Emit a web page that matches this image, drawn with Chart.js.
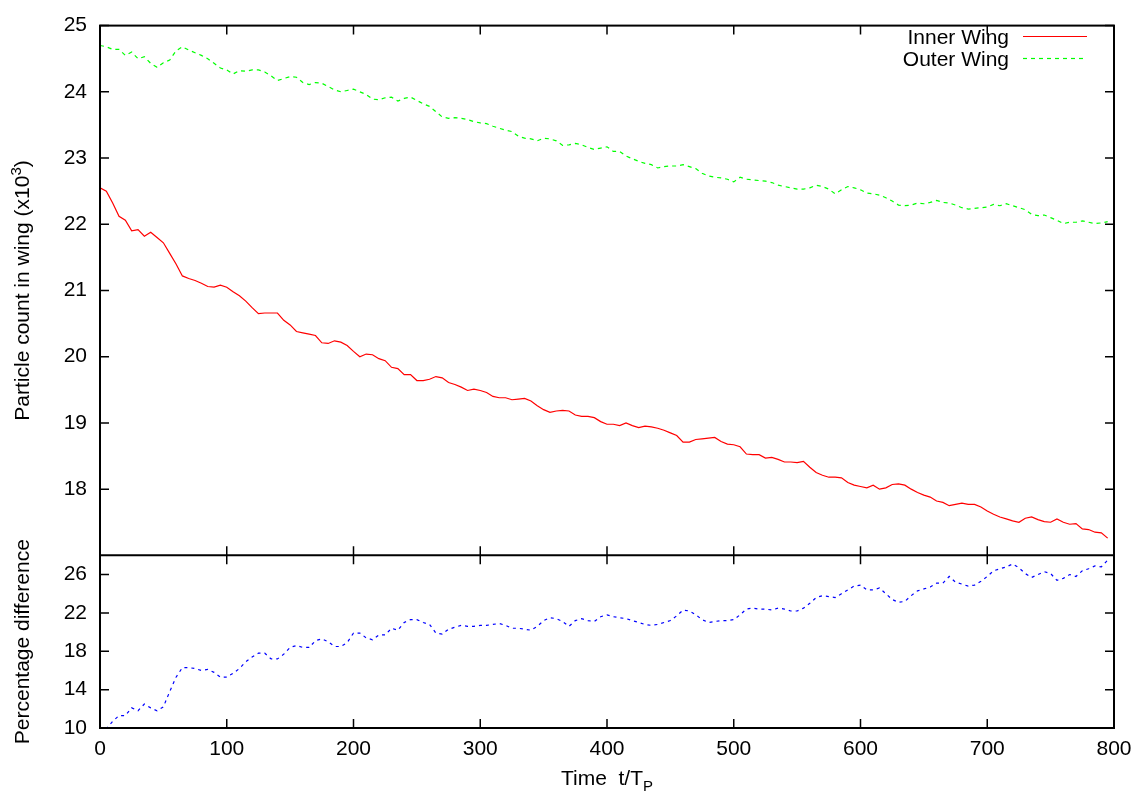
<!DOCTYPE html>
<html>
<head>
<meta charset="utf-8">
<title>Particle count in wing</title>
<script src="https://cdn.jsdelivr.net/npm/chart.js@4.4.0/dist/chart.umd.min.js"></script>
<style>
  html, body { margin: 0; padding: 0; background: #fff; }
  canvas { display: block; }
</style>
</head>
<body>
<canvas id="wingChart" width="1142" height="795"></canvas>
<script>
// time in units of T_P, one sample every 5
var times = [
  0, 5, 10, 15, 20, 25, 30, 35, 40, 45, 50, 55, 60, 65, 70, 75, 80, 85, 90, 95,
  100, 105, 110, 115, 120, 125, 130, 135, 140, 145, 150, 155, 160, 165, 170, 175, 180, 185, 190, 195,
  200, 205, 210, 215, 220, 225, 230, 235, 240, 245, 250, 255, 260, 265, 270, 275, 280, 285, 290, 295,
  300, 305, 310, 315, 320, 325, 330, 335, 340, 345, 350, 355, 360, 365, 370, 375, 380, 385, 390, 395,
  400, 405, 410, 415, 420, 425, 430, 435, 440, 445, 450, 455, 460, 465, 470, 475, 480, 485, 490, 495,
  500, 505, 510, 515, 520, 525, 530, 535, 540, 545, 550, 555, 560, 565, 570, 575, 580, 585, 590, 595,
  600, 605, 610, 615, 620, 625, 630, 635, 640, 645, 650, 655, 660, 665, 670, 675, 680, 685, 690, 695,
  700, 705, 710, 715, 720, 725, 730, 735, 740, 745, 750, 755, 760, 765, 770, 775, 780, 785, 790, 795
];

// particle counts (x10^3)
var innerWing = [
  22.55, 22.50, 22.32, 22.12, 22.06, 21.90, 21.92, 21.82, 21.88, 21.80, 21.72, 21.56, 21.40, 21.22, 21.18, 21.15, 21.11, 21.06, 21.05, 21.08,
  21.05, 20.98, 20.92, 20.84, 20.74, 20.65, 20.66, 20.66, 20.66, 20.55, 20.48, 20.38, 20.36, 20.34, 20.32, 20.21, 20.20, 20.24, 20.22, 20.17,
  20.08, 20.00, 20.04, 20.03, 19.97, 19.94, 19.84, 19.82, 19.73, 19.73, 19.64, 19.64, 19.66, 19.70, 19.68, 19.61, 19.58, 19.54, 19.49, 19.51,
  19.49, 19.46, 19.40, 19.38, 19.38, 19.35, 19.36, 19.37, 19.33, 19.26, 19.20, 19.16, 19.18, 19.19, 19.18, 19.12, 19.10, 19.10, 19.08, 19.02,
  18.98, 18.98, 18.96, 19.00, 18.96, 18.93, 18.95, 18.94, 18.92, 18.89, 18.85, 18.81, 18.71, 18.71, 18.75, 18.76, 18.77, 18.78, 18.72, 18.68,
  18.67, 18.64, 18.53, 18.52, 18.52, 18.47, 18.48, 18.45, 18.41, 18.41, 18.40, 18.42, 18.33, 18.25, 18.21, 18.18, 18.18, 18.17, 18.10, 18.06,
  18.04, 18.02, 18.06, 18.00, 18.02, 18.07, 18.08, 18.06, 18.00, 17.95, 17.91, 17.88, 17.82, 17.80, 17.75, 17.77, 17.79, 17.77, 17.77, 17.73,
  17.67, 17.62, 17.58, 17.55, 17.52, 17.50, 17.56, 17.58, 17.54, 17.51, 17.50, 17.55, 17.50, 17.47, 17.48, 17.40, 17.39, 17.35, 17.34, 17.26
];
var outerWing = [
  24.70, 24.68, 24.64, 24.64, 24.55, 24.60, 24.50, 24.53, 24.43, 24.37, 24.44, 24.48, 24.62, 24.68, 24.63, 24.59, 24.55, 24.50, 24.43, 24.36,
  24.33, 24.27, 24.32, 24.31, 24.33, 24.33, 24.30, 24.24, 24.17, 24.20, 24.23, 24.22, 24.14, 24.11, 24.14, 24.13, 24.08, 24.03, 24.00, 24.02,
  24.04, 24.00, 23.96, 23.89, 23.88, 23.91, 23.92, 23.86, 23.90, 23.92, 23.87, 23.82, 23.78, 23.70, 23.62, 23.60, 23.61, 23.60, 23.58, 23.55,
  23.53, 23.52, 23.48, 23.45, 23.42, 23.40, 23.33, 23.30, 23.29, 23.26, 23.30, 23.29, 23.26, 23.19, 23.20, 23.22, 23.20, 23.16, 23.13, 23.15,
  23.17, 23.10, 23.10, 23.03, 22.99, 22.95, 22.92, 22.90, 22.85, 22.87, 22.88, 22.88, 22.90, 22.87, 22.84, 22.77, 22.73, 22.71, 22.70, 22.68,
  22.64, 22.71, 22.68, 22.67, 22.66, 22.65, 22.63, 22.59, 22.57, 22.55, 22.53, 22.53, 22.55, 22.59, 22.57, 22.53, 22.46, 22.52, 22.57, 22.55,
  22.52, 22.47, 22.46, 22.44, 22.40, 22.35, 22.29, 22.28, 22.29, 22.32, 22.31, 22.33, 22.36, 22.33, 22.32, 22.29, 22.25, 22.23, 22.24, 22.25,
  22.26, 22.30, 22.28, 22.31, 22.28, 22.25, 22.22, 22.15, 22.13, 22.14, 22.10, 22.06, 22.01, 22.03, 22.03, 22.05, 22.03, 22.01, 22.02, 22.04
];
// percentage difference between the two wings
var pctDiff = [
  9.5, 9.9, 10.7, 11.3, 11.3, 12.1, 11.8, 12.5, 12.1, 11.8, 12.2, 13.8, 15.3, 16.3, 16.3, 16.2, 16.0, 16.1, 15.8, 15.3,
  15.3, 15.7, 16.2, 16.9, 17.4, 17.8, 17.8, 17.2, 17.2, 17.7, 18.4, 18.6, 18.4, 18.4, 19.1, 19.3, 19.0, 18.5, 18.5, 18.9,
  19.9, 19.9, 19.4, 19.2, 19.7, 19.7, 20.4, 20.2, 21.0, 21.3, 21.3, 21.0, 20.8, 19.9, 19.8, 20.3, 20.5, 20.7, 20.6, 20.6,
  20.7, 20.7, 20.8, 20.9, 20.7, 20.4, 20.4, 20.3, 20.2, 20.6, 21.2, 21.5, 21.4, 21.1, 20.6, 21.2, 21.4, 21.2, 21.1, 21.6,
  21.8, 21.6, 21.5, 21.4, 21.2, 21.0, 20.8, 20.7, 20.8, 21.0, 21.2, 21.7, 22.3, 22.2, 21.8, 21.3, 21.0, 21.1, 21.2, 21.2,
  21.3, 21.8, 22.4, 22.5, 22.4, 22.4, 22.3, 22.5, 22.4, 22.2, 22.2, 22.5, 23.0, 23.6, 23.8, 23.7, 23.6, 24.0, 24.4, 24.8,
  24.9, 24.4, 24.4, 24.6, 24.0, 23.4, 23.1, 23.2, 23.8, 24.3, 24.5, 24.7, 25.1, 25.1, 25.8, 25.2, 25.0, 24.8, 24.9, 25.3,
  25.8, 26.4, 26.6, 26.8, 27.1, 26.7, 26.1, 25.7, 26.0, 26.3, 26.1, 25.4, 25.6, 26.0, 25.8, 26.4, 26.6, 26.9, 26.8, 27.5
];

var xTicks = [0, 100, 200, 300, 400, 500, 600, 700, 800];
var countTicks = [18, 19, 20, 21, 22, 23, 24, 25];
var pctTicks = [10, 14, 18, 22, 26];

var FONT = "'Liberation Sans', Arial, Helvetica, sans-serif";
var RED = '#ff0000', GREEN = '#00ff00', BLUE = '#0000ff';

function pairs(ys) {
  return times.map(function (t, i) { return { x: t, y: ys[i] }; });
}

// frame, inward ticks, axis titles and key drawn gnuplot style
var gnuplotDecor = {
  id: 'gnuplotDecor',
  afterDatasetsDraw: function (chart) {
    var ctx = chart.ctx, a = chart.chartArea;
    var xs = chart.scales.x, yt = chart.scales.yTop, yb = chart.scales.yBot;
    var mid = yt.bottom, len = 9;
    ctx.save();
    ctx.strokeStyle = '#000';
    ctx.lineWidth = 2;
    ctx.strokeRect(a.left, a.top, a.right - a.left, a.bottom - a.top);
    ctx.beginPath();
    ctx.moveTo(a.left, mid); ctx.lineTo(a.right, mid);
    ctx.stroke();

    ctx.lineWidth = 1.5;
    ctx.beginPath();
    xTicks.forEach(function (v) {
      var px = xs.getPixelForValue(v);
      ctx.moveTo(px, a.top); ctx.lineTo(px, a.top + len);
      ctx.moveTo(px, mid - len); ctx.lineTo(px, mid + len);
      ctx.moveTo(px, a.bottom); ctx.lineTo(px, a.bottom - len);
    });
    [[yt, countTicks], [yb, pctTicks]].forEach(function (p) {
      p[1].forEach(function (v) {
        var py = p[0].getPixelForValue(v);
        ctx.moveTo(a.left, py); ctx.lineTo(a.left + len, py);
        ctx.moveTo(a.right, py); ctx.lineTo(a.right - len, py);
      });
    });
    ctx.stroke();

    ctx.fillStyle = '#000';
    ctx.textBaseline = 'alphabetic';

    // x title with subscript P
    var big = '21px ' + FONT, small = '15px ' + FONT;
    ctx.font = big;
    var main = 'Time  t/T';
    var w1 = ctx.measureText(main).width;
    ctx.font = small;
    var w2 = ctx.measureText('P').width;
    var sx = (a.left + a.right) / 2 - (w1 + w2) / 2;
    ctx.font = big;
    ctx.textAlign = 'left';
    ctx.fillText(main, sx, 785);
    ctx.font = small;
    ctx.fillText('P', sx + w1, 791);

    // rotated y titles
    function vTitle(parts, cy) {
      ctx.save();
      ctx.translate(29, cy);
      ctx.rotate(-Math.PI / 2);
      var total = 0;
      parts.forEach(function (p) { ctx.font = p.font; total += ctx.measureText(p.text).width; });
      var x = -total / 2;
      parts.forEach(function (p) {
        ctx.font = p.font;
        ctx.fillText(p.text, x, p.dy);
        x += ctx.measureText(p.text).width;
      });
      ctx.restore();
    }
    vTitle([
      { text: 'Particle count in wing (x10', font: big, dy: 0 },
      { text: '3', font: small, dy: -8 },
      { text: ')', font: big, dy: 0 }
    ], (yt.top + yt.bottom) / 2);
    vTitle([{ text: 'Percentage difference', font: big, dy: 0 }], (yb.top + yb.bottom) / 2);

    // key, top right
    var keys = [
      { label: chart.data.datasets[0].label, color: RED, dash: [] },
      { label: chart.data.datasets[1].label, color: GREEN, dash: [4, 4] }
    ];
    ctx.font = big;
    ctx.textAlign = 'right';
    keys.forEach(function (k, i) {
      var base = 44 + i * 22;
      ctx.fillStyle = '#000';
      ctx.fillText(k.label, 1009, base);
      ctx.strokeStyle = k.color;
      ctx.lineWidth = 1.2;
      ctx.setLineDash(k.dash);
      ctx.beginPath();
      ctx.moveTo(1023, base - 7.5);
      ctx.lineTo(1087, base - 7.5);
      ctx.stroke();
    });
    ctx.setLineDash([]);
    ctx.restore();
  }
};

var ctx = document.getElementById('wingChart').getContext('2d');
var wingChart = new Chart(ctx, {
  type: 'line',
  data: {
    datasets: [
      { label: 'Inner Wing', data: pairs(innerWing), yAxisID: 'yTop',
        borderColor: RED, borderWidth: 1.2 },
      { label: 'Outer Wing', data: pairs(outerWing), yAxisID: 'yTop',
        borderColor: GREEN, borderWidth: 1.2, borderDash: [4, 4] },
      { label: 'Percentage difference', data: pairs(pctDiff), yAxisID: 'yBot',
        borderColor: BLUE, borderWidth: 1.2, borderDash: [3, 4] }
    ]
  },
  options: {
    responsive: false,
    animation: false,
    layout: { padding: { left: 0, top: 16, right: 28, bottom: 0 } },
    elements: { point: { radius: 0 }, line: { tension: 0 } },
    plugins: { legend: { display: false }, tooltip: { enabled: false } },
    scales: {
      x: {
        type: 'linear', min: 0, max: 800,
        grid: { display: false, drawTicks: false },
        border: { display: false },
        afterBuildTicks: function (s) { s.ticks = xTicks.map(function (v) { return { value: v }; }); },
        afterFit: function (s) { s.height = 67; },
        ticks: { color: '#000', padding: 9, autoSkip: false, maxRotation: 0,
                 font: { family: FONT, size: 21 } }
      },
      yBot: {
        type: 'linear', position: 'left', stack: 'panels', stackWeight: 175, weight: 0,
        min: 10, max: 28,
        grid: { display: false, drawTicks: false },
        border: { display: false },
        afterBuildTicks: function (s) { s.ticks = pctTicks.map(function (v) { return { value: v }; }); },
        afterFit: function (s) { s.width = 100; },
        ticks: { color: '#000', padding: 13, autoSkip: false, font: { family: FONT, size: 21 } }
      },
      yTop: {
        type: 'linear', position: 'left', stack: 'panels', stackWeight: 537, weight: 1,
        min: 17, max: 25,
        grid: { display: false, drawTicks: false },
        border: { display: false },
        afterBuildTicks: function (s) { s.ticks = countTicks.map(function (v) { return { value: v }; }); },
        afterFit: function (s) { s.width = 100; },
        ticks: { color: '#000', padding: 13, autoSkip: false, font: { family: FONT, size: 21 } }
      }
    }
  },
  plugins: [gnuplotDecor]
});
</script>
</body>
</html>
